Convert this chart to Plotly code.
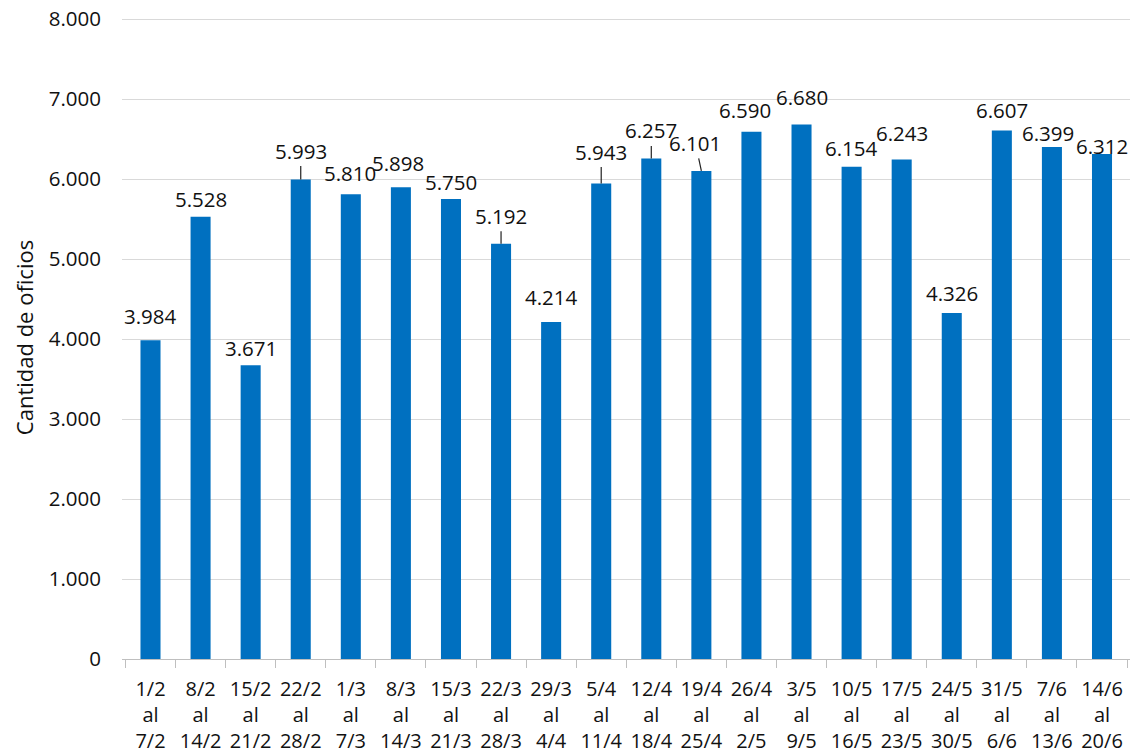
import plotly.graph_objects as go

# semanas (inicio / fin) y cantidad de oficios
inicio = ["1/2", "8/2", "15/2", "22/2", "1/3", "8/3", "15/3", "22/3", "29/3", "5/4",
          "12/4", "19/4", "26/4", "3/5", "10/5", "17/5", "24/5", "31/5", "7/6", "14/6"]
fin = ["7/2", "14/2", "21/2", "28/2", "7/3", "14/3", "21/3", "28/3", "4/4", "11/4",
       "18/4", "25/4", "2/5", "9/5", "16/5", "23/5", "30/5", "6/6", "13/6", "20/6"]
oficios = [3984, 5528, 3671, 5993, 5810, 5898, 5750, 5192, 4214, 5943,
           6257, 6101, 6590, 6680, 6154, 6243, 4326, 6607, 6399, 6312]
yticks = [0, 1000, 2000, 3000, 4000, 5000, 6000, 7000, 8000]

# desplazamiento de las etiquetas (px) y si llevan linea guia
label_dx = [0, 0, 0, 0, -1, -3, 0, 0, 0, 0, 0, -6, -6, 0, 0, 0, 0, 0, -4, 0]
label_dy = [-24, -18, -17, -29, -21, -24, -17, -28, -25, -32,
            -28, -28, -22, -28, -19, -27, -20, -20, -14, -8]
leader = [False, False, False, True, False, False, False, True, False, True,
          True, True, False, False, False, False, False, False, False, False]

FONT = "Open Sans"
categorias = [f"{a}<br>al<br>{b}" for a, b in zip(inicio, fin)]

fig = go.Figure()
fig.add_trace(go.Bar(
    x=categorias,
    y=oficios,
    marker=dict(color="#0070C0", line=dict(width=0)),
    width=0.4,
))

for c, v, dx, dy, ld in zip(categorias, oficios, label_dx, label_dy, leader):
    fig.add_annotation(
        x=c, y=v, text=f"{v:,}".replace(",", "."),
        showarrow=True, arrowhead=0, arrowwidth=1.2,
        arrowcolor="#222222" if ld else "rgba(0,0,0,0)",
        ax=dx, ay=dy, standoff=0,
        font=dict(family=FONT, size=20.5, color="#111111"),
    )

fig.update_layout(
    width=1132, height=755,
    margin=dict(l=122, r=2, t=16, b=96),
    paper_bgcolor="white", plot_bgcolor="white",
    separators=",.",
    showlegend=False,
    font=dict(family=FONT, size=20, color="#111111"),
)
fig.update_xaxes(
    type="category", tickson="boundaries", ticks="outside", ticklen=8,
    tickcolor="#bfbfbf", showline=True, linecolor="#bfbfbf", linewidth=1,
    showgrid=False, tickfont=dict(size=20), tickangle=0, ticklabelstandoff=12,
)
fig.update_yaxes(
    range=[0, 8037.5], tickvals=yticks, tickformat=",d",
    showgrid=True, gridcolor="#d9d9d9", gridwidth=1,
    zeroline=False, showline=False, ticks="", ticklabelstandoff=20,
    title=dict(text="Cantidad de oficios", standoff=9, font=dict(size=22)),
    tickfont=dict(size=20.5),
)

# quitar el margen por defecto de la pagina
fig.write_html("out.html", config={"displayModeBar": False},
               post_script="document.body.style.margin='0px';")
